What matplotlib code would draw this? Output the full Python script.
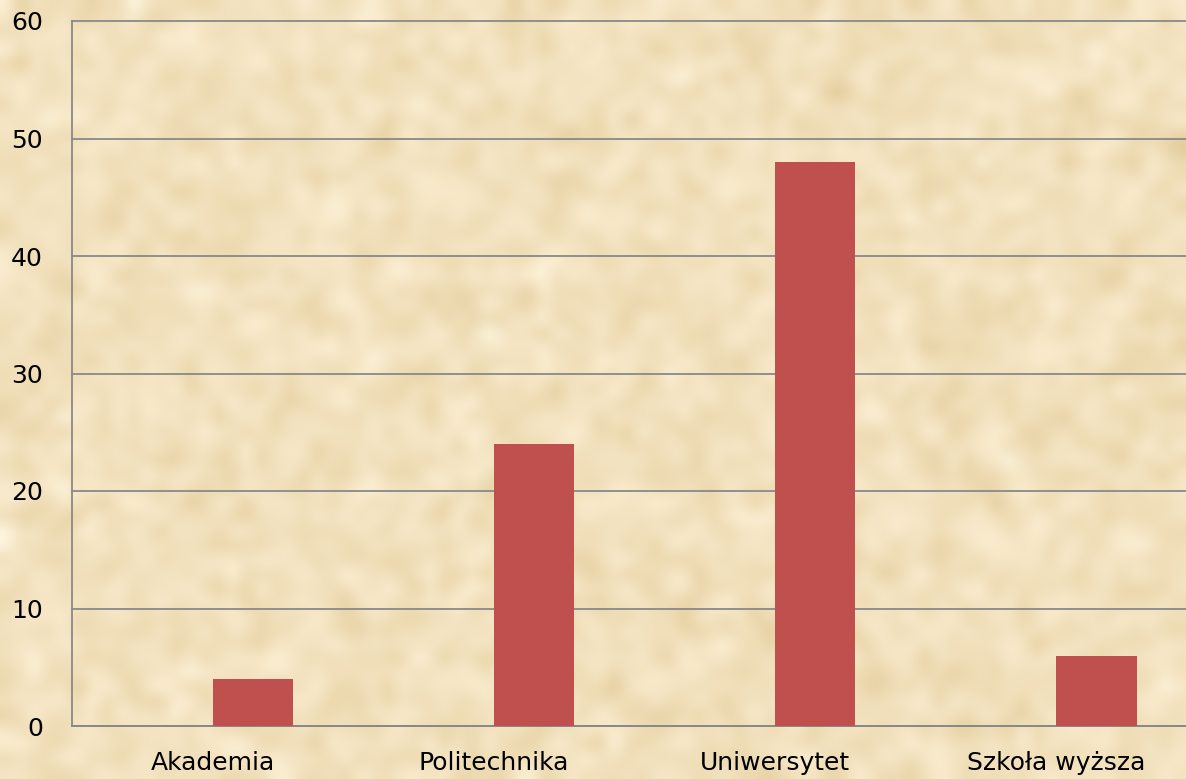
import matplotlib.pyplot as plt
import numpy as np

categories = ['Akademia', 'Politechnika', 'Uniwersytet', 'Szkoła wyższa']
values = [4, 24, 48, 6]
yticks = [0, 10, 20, 30, 40, 50, 60]

W, H = 1186, 779
fig = plt.figure(figsize=(W / 100, H / 100), dpi=100)
fig.patch.set_facecolor('#F2E0BB')

# soft parchment look for the background (decoration only)
bg = fig.add_axes([0, 0, 1, 1], zorder=-1)
bg.axis('off')
rng = np.random.default_rng(3)
noise = rng.normal(size=(H // 14, W // 14))
base = np.array([242, 225, 189]) / 255.0
tint = np.array([0.022, 0.03, 0.05])
tex = np.clip(base[None, None, :] + noise[:, :, None] * tint[None, None, :], 0, 1)
bg.imshow(tex, aspect='auto', interpolation='bicubic', extent=[0, 1, 0, 1])

# axes extend a bit past the right edge, like the cropped original
ax = fig.add_axes([72 / W, 53 / H, 1125 / W, 705 / H])
ax.set_facecolor('none')

x = np.arange(len(categories))
width = 0.285
ax.bar(x, values, width=width, align='edge', color='#C0504D', zorder=3)

ax.set_xlim(-0.5, len(categories) - 0.5)
ax.set_ylim(0, 60)
ax.set_yticks(yticks)
ax.set_xticks(x)
ax.set_xticklabels(categories)
ax.grid(axis='y', color='#898989', linewidth=1.3, zorder=1)
for gl in ax.get_ygridlines():
    gl.set_clip_on(False)
ax.tick_params(length=0, labelsize=18, colors='black')
ax.tick_params(axis='y', pad=21)
ax.tick_params(axis='x', pad=18)

for s in ['top', 'right']:
    ax.spines[s].set_visible(False)
for s in ['left', 'bottom']:
    ax.spines[s].set_color('#898989')
    ax.spines[s].set_linewidth(1.3)

plt.savefig('out.png', dpi=100, facecolor=fig.get_facecolor())
